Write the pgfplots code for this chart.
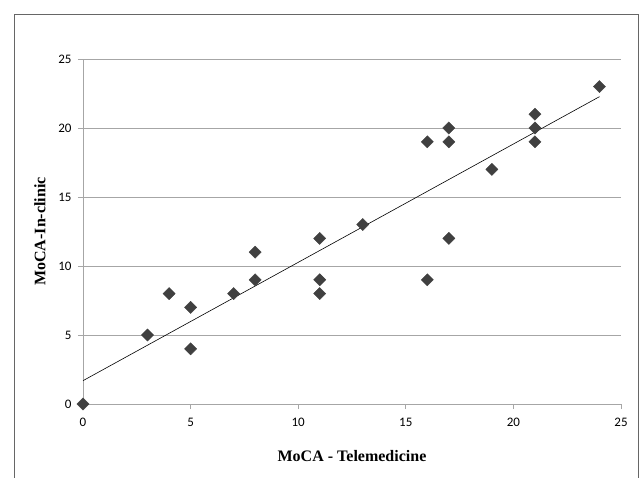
\documentclass[border=0pt]{standalone}
\usepackage{pgfplots}
\pgfplotsset{compat=1.18}
\usepackage{fontspec}
\setmainfont{Liberation Serif}
\newfontfamily\tickfont{Carlito}
\definecolor{gridgray}{HTML}{A6A6A6}
\definecolor{markgray}{HTML}{404040}
\begin{document}
\begin{tikzpicture}
\useasboundingbox (0pt,0pt) rectangle (640pt,477pt);
% outer frame (cut at the bottom, as in the source)
\draw[gray!80!black, line width=0.8pt] (14pt,-5pt) -- (14pt,463pt) -- (638pt,463pt) -- (638pt,-5pt);
\begin{axis}[
    at={(83pt,73pt)}, anchor=origin,
    scale only axis,
    width=538pt, height=345pt,
    xmin=0, xmax=25, ymin=0, ymax=25,
    xtick={0,5,...,25}, ytick={0,5,...,25},
    axis x line*=bottom, axis y line*=left,
    axis line style={gridgray, line width=0.8pt, -},
    ymajorgrids, grid style={gridgray, line width=0.8pt},
    tick style={gridgray, line width=0.8pt},
    tick align=outside, major tick length=5pt,
    ticklabel style={font=\tickfont\fontsize{13}{15}\selectfont},
    xticklabel style={yshift=-6pt},
    yticklabel style={xshift=-3pt},
    /pgf/number format/assume math mode=true,
    xlabel={\textbf{MoCA - Telemedicine}},
    ylabel={\textbf{MoCA-In-clinic}},
    label style={font=\fontsize{16}{18}\selectfont},
    xlabel style={at={(axis description cs:0.5,0)}, anchor=north, yshift=-43pt},
    ylabel style={at={(axis description cs:0,0.5)}, anchor=south, rotate=0, yshift=34pt},
    clip=false,
]
% trend line
\addplot[black, line width=0.6pt] coordinates {(0,1.69) (24,22.27)};
\addplot[only marks, mark=square*, mark size=4.3pt,
    mark options={rotate=45, fill=markgray, draw=markgray}] coordinates {
    (0,0) (3,5) (4,8) (5,7) (5,4) (7,8) (8,11) (8,9)
    (11,12) (11,9) (11,8) (13,13) (16,19) (16,9)
    (17,20) (17,19) (17,12) (19,17) (21,21) (21,20) (21,19) (24,23)
};
\end{axis}
\end{tikzpicture}
\end{document}
